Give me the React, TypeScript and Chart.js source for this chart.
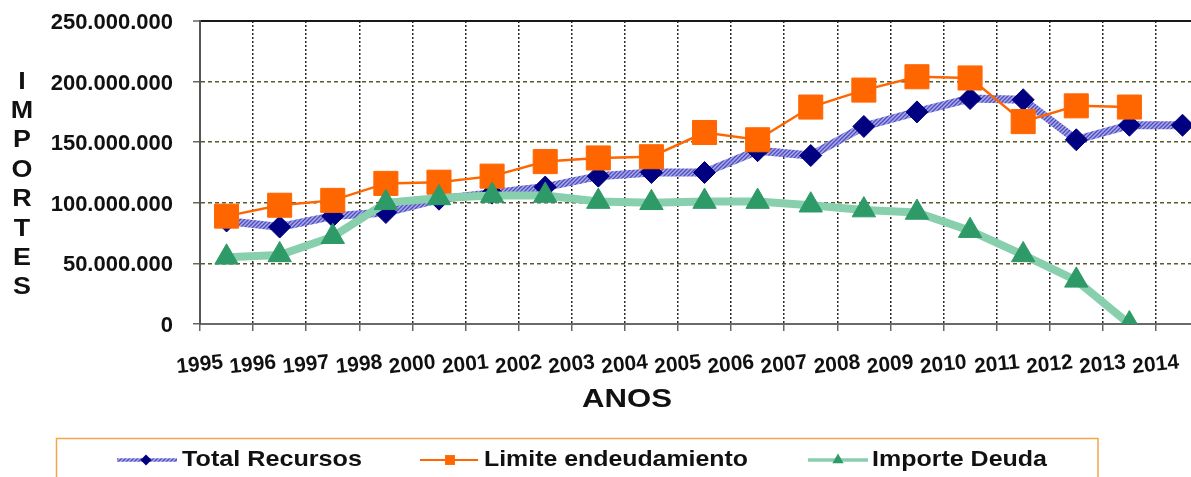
import React, { useEffect, useRef } from "react";
import { Chart, registerables } from "chart.js";

Chart.register(...registerables);

const categories = ["1995", "1996", "1997", "1998", "2000", "2001", "2002", "2003", "2004", "2005", "2006", "2007", "2008", "2009", "2010", "2011", "2012", "2013", "2014"];
const totalRecursos = [85e6, 80e6, 89e6, 92e6, 103e6, 108e6, 113e6, 122e6, 125e6, 125e6, 143e6, 139e6, 163e6, 175e6, 186e6, 185e6, 152e6, 164e6, 164e6];
const limiteEndeudamiento = [89e6, 98e6, 102e6, 116e6, 117e6, 122e6, 134e6, 137e6, 138e6, 158e6, 152e6, 179e6, 193e6, 204e6, 203e6, 167e6, 180e6, 179e6, null];
const importeDeuda = [55e6, 57e6, 72e6, 100e6, 104e6, 106e6, 106e6, 101e6, 100e6, 101e6, 101e6, 98e6, 94e6, 92e6, 77e6, 57e6, 36e6, 0, null];
const yTicks = [0, 50e6, 100e6, 150e6, 200e6, 250e6];
const seriesNames = ["Total Recursos", "Limite endeudamiento", "Importe Deuda"];
const yTitle = "IMPORTES";
const xTitle = "ANOS";

const FAMILY = "'Liberation Sans', Arial, Helvetica, sans-serif";

const fmt = (v: number) => String(Math.round(v)).replace(/\B(?=(\d{3})+(?!\d))/g, ".");

function makeHatch(): CanvasPattern | string {
  const c = document.createElement("canvas");
  c.width = 4;
  c.height = 4;
  const g = c.getContext("2d");
  if (!g) return "#8585d6";
  g.fillStyle = "#acacec";
  g.fillRect(0, 0, 4, 4);
  g.strokeStyle = "#4f4fc0";
  g.lineWidth = 1.4;
  g.beginPath();
  g.moveTo(0, 4);
  g.lineTo(4, 0);
  g.moveTo(-1, 1);
  g.lineTo(1, -1);
  g.moveTo(3, 5);
  g.lineTo(5, 3);
  g.stroke();
  return g.createPattern(c, "repeat") || "#8585d6";
}

const legendLayout = [
  { x0: 117, x1: 177, mx: 146, tx: 182, tw: 180 },
  { x0: 420, x1: 478, mx: 450, tx: 484, tw: 264 },
  { x0: 808, x1: 868, mx: 838, tx: 872, tw: 175 },
];

function drawMarker(ctx: CanvasRenderingContext2D, style: string, x: number, y: number, r: number, color: string) {
  ctx.fillStyle = color;
  ctx.beginPath();
  if (style === "rectRot") {
    ctx.moveTo(x, y - r);
    ctx.lineTo(x + r, y);
    ctx.lineTo(x, y + r);
    ctx.lineTo(x - r, y);
  } else if (style === "rect") {
    const s = r * Math.SQRT1_2;
    ctx.rect(x - s, y - s, 2 * s, 2 * s);
  } else {
    ctx.moveTo(x, y - r);
    ctx.lineTo(x + r * 0.866, y + r * 0.5);
    ctx.lineTo(x - r * 0.866, y + r * 0.5);
  }
  ctx.closePath();
  ctx.fill();
}

function stretchedText(ctx: CanvasRenderingContext2D, text: string, x: number, y: number, width: number, align: "left" | "center") {
  const w = ctx.measureText(text).width;
  const k = w > 0 ? width / w : 1;
  ctx.save();
  ctx.translate(x, y);
  ctx.scale(k, 1);
  ctx.textAlign = align;
  ctx.fillText(text, 0, 0);
  ctx.restore();
}

const decorPlugin = {
  id: "decor",
  afterDraw(chart: any) {
    const ctx: CanvasRenderingContext2D = chart.ctx;
    ctx.save();
    ctx.fillStyle = "#111";
    ctx.textBaseline = "middle";

    // vertical stacked y title
    ctx.font = `bold 24px ${FAMILY}`;
    yTitle.split("").forEach((ch, i) => {
      ctx.save();
      ctx.translate(22, 82 + i * 29.4);
      ctx.scale(1.12, 1);
      ctx.textAlign = "center";
      ctx.fillText(ch, 0, 0);
      ctx.restore();
    });

    // x title
    ctx.font = `bold 25px ${FAMILY}`;
    stretchedText(ctx, xTitle, 627, 400, 90, "center");

    // legend box
    ctx.strokeStyle = "#f2a64a";
    ctx.lineWidth = 1.5;
    ctx.strokeRect(56.5, 438.5, 1098 - 56.5, 80);

    const ds = chart.data.datasets;
    const ly = 460;
    legendLayout.forEach((L, i) => {
      const d = ds[i];
      ctx.save();
      ctx.strokeStyle = d.borderColor;
      ctx.lineWidth = i === 1 ? 2 : 3.5;
      ctx.beginPath();
      ctx.moveTo(L.x0, ly);
      ctx.lineTo(L.x1, ly);
      ctx.stroke();
      drawMarker(ctx, d.pointStyle, L.mx, ly, i === 0 ? 5.5 : i === 1 ? 7 : 6.5, d.pointBackgroundColor);
      ctx.restore();
      ctx.fillStyle = "#111";
      ctx.font = `bold 22px ${FAMILY}`;
      stretchedText(ctx, d.label, L.tx, ly, L.tw, "left");
    });
    ctx.restore();
  },
};

export default function App() {
  const ref = useRef<HTMLCanvasElement | null>(null);

  useEffect(() => {
    if (!ref.current) return;
    Chart.defaults.font.family = FAMILY;
    const hatch = makeHatch();
    const pts = (arr: (number | null)[]) => arr.map((v, i) => ({ x: i + 0.5, y: v }));

    const chart = new Chart(ref.current, {
      type: "line",
      data: {
        datasets: [
          {
            label: seriesNames[0],
            data: pts(totalRecursos),
            borderColor: hatch as any,
            borderWidth: 8,
            pointStyle: "rectRot",
            pointRadius: 11,
            pointBackgroundColor: "#000080",
            pointBorderColor: "#000080",
            pointBorderWidth: 1,
            tension: 0,
            order: 2,
          },
          {
            label: seriesNames[1],
            data: pts(limiteEndeudamiento),
            borderColor: "#ff6600",
            borderWidth: 2.5,
            pointStyle: "rect",
            pointRadius: 17,
            pointBackgroundColor: "#ff6600",
            pointBorderColor: "#ff6600",
            pointBorderWidth: 1,
            tension: 0,
            order: 1,
          },
          {
            label: seriesNames[2],
            data: pts(importeDeuda),
            borderColor: "#88cfad",
            borderWidth: 8,
            pointStyle: "triangle",
            pointRadius: 13.5,
            pointBackgroundColor: "#2e9a68",
            pointBorderColor: "#2e9a68",
            pointBorderWidth: 1,
            tension: 0,
            order: 0,
          },
        ] as any,
      },
      options: {
        responsive: false,
        animation: false,
        events: [],
        layout: { autoPadding: false, padding: { top: 21, left: 0, right: 0, bottom: 0 } },
        plugins: {
          legend: { display: false },
          tooltip: { enabled: false },
        },
        scales: {
          x: {
            type: "linear",
            min: 0,
            max: 18.66,
            afterBuildTicks: (axis: any) => {
              axis.ticks = categories.map((_, i) => ({ value: i }));
            },
            afterFit: (axis: any) => {
              axis.height = 153;
              axis.paddingLeft = 0;
              axis.paddingRight = 0;
            },
            ticks: {
              autoSkip: false,
              minRotation: 6,
              maxRotation: 6,
              labelOffset: 23,
              padding: 19,
              color: "#111",
              font: { family: FAMILY, size: 21, weight: "bold" },
              callback: (v: any) => categories[Math.round(Number(v))] ?? "",
            },
            grid: {
              color: (c: any) => (c.tick && c.tick.value === 0 ? "rgba(0,0,0,0)" : "#2a2a2a"),
              lineWidth: 1.5,
              tickLength: 7,
              tickColor: "#666",
              tickWidth: 1.5,
            },
            border: { display: true, color: "#6a6a6a", width: 2, dash: [2, 2] },
          },
          y: {
            min: 0,
            max: 250e6,
            afterBuildTicks: (axis: any) => {
              axis.ticks = yTicks.map((v) => ({ value: v }));
            },
            afterFit: (axis: any) => {
              axis.width = 200;
              axis.paddingTop = 0;
              axis.paddingBottom = 0;
            },
            ticks: {
              padding: 20,
              labelOffset: 2,
              color: "#111",
              font: { family: FAMILY, size: 22, weight: "bold" },
              callback: (v: any) => fmt(Number(v)),
            },
            grid: {
              color: (c: any) => {
                const v = c.tick ? c.tick.value : -1;
                if (v === 0) return "rgba(0,0,0,0)";
                if (v === 250e6) return "#1a1a1a";
                return "#5a5a2a";
              },
              lineWidth: (c: any) => (c.tick && c.tick.value === 250e6 ? 2 : 1.5),
              tickLength: 7,
              tickColor: "#666",
              tickWidth: 1.5,
            },
            border: {
              display: true,
              color: "#555",
              width: 2,
              dash: (c: any) => (c.tick && c.tick.value === 250e6 ? [] : [4, 3]),
            } as any,
          },
        },
      } as any,
      plugins: [decorPlugin],
    });
    return () => chart.destroy();
  }, []);

  return (
    <div style={{ position: "fixed", left: 0, top: 0, width: 1191, height: 477, background: "#fff", overflow: "hidden" }}>
      <canvas ref={ref} width={1191} height={477} style={{ display: "block" }} />
    </div>
  );
}
